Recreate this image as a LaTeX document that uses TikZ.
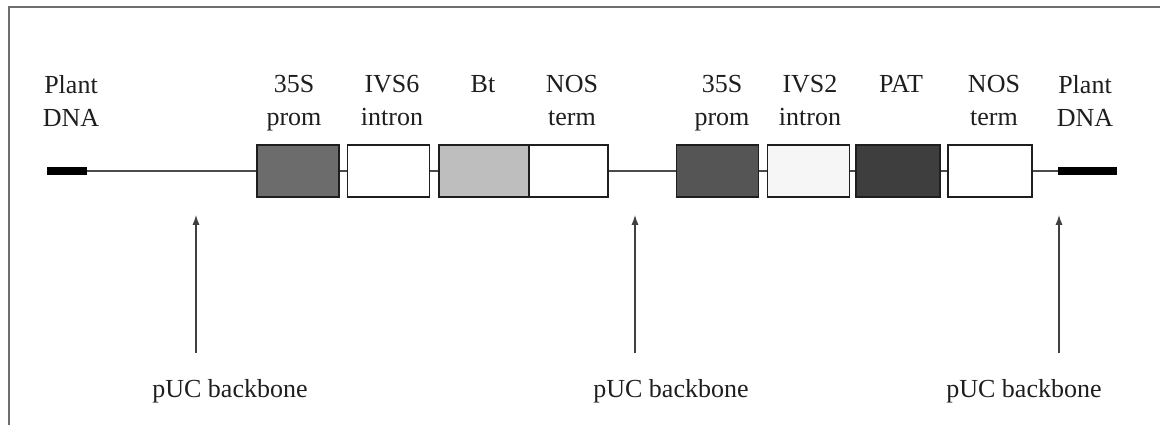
\documentclass[tikz,border=0pt]{standalone}
\usepackage{fontspec}
\setmainfont{Liberation Serif}
\usepackage{tikz}
\usetikzlibrary{arrows.meta,positioning}
\definecolor{ink}{HTML}{1E1E1E}
\definecolor{frame}{HTML}{6E6E6E}
\definecolor{promgray}{HTML}{6C6C6C}
\definecolor{promdark}{HTML}{555555}
\definecolor{btgray}{HTML}{BEBEBE}
\definecolor{patgray}{HTML}{3E3E3E}
\definecolor{introngray}{HTML}{F6F6F6}
\tikzset{
  seg/.style={rectangle, draw=ink, line width=1pt, fill=white, inner sep=0pt,
              minimum width=2.05cm, minimum height=1.3cm},
  promseg/.style={seg, fill=promgray},
  endbar/.style={rectangle, fill=black, draw=none, inner sep=0pt, minimum height=0.2cm},
  lbl/.style={font=\fontsize{18.5}{23.5}\selectfont, text=ink, align=center, inner sep=0pt, anchor=north},
  dna/.style={draw=ink!80, line width=1pt},
  flow/.style={-{Latex[length=7pt,width=5pt]}, draw=ink!85, line width=0.8pt}
}
\begin{document}
\begin{tikzpicture}[x=0.025cm, y=-0.025cm]
 \useasboundingbox (0,0) rectangle (1160,425);
 \draw[frame, line width=1.4pt] (9,425) -- (9,7) -- (1160,7);
 % construct
 \node[endbar, minimum width=1cm] (pl1) at (67,171) {};
 \node[promseg] (p35a) at (298,171) {};
 \node[seg] (ivs6) at (388.5,171) {};
 \node[seg, fill=btgray, minimum width=2.25cm] (bt) at (484,171) {};
 \node[seg, minimum width=1.98cm] (nos1) at (568.5,171) {};
 \node[promseg, fill=promdark] (p35b) at (717.5,171) {};
 \node[seg, fill=introngray] (ivs2) at (808.5,171) {};
 \node[seg, fill=patgray, minimum width=2.1cm] (pat) at (898,171) {};
 \node[seg, minimum width=2.1cm] (nos2) at (990,171) {};
 \node[endbar, minimum width=1.48cm] (pl2) at (1087.5,171) {};
 \draw[dna] (pl1.east) -- (p35a.west);
 \draw[dna] (p35a.east) -- (ivs6.west);
 \draw[dna] (ivs6.east) -- (bt.west);
 \draw[dna] (nos1.east) -- (p35b.west);
 \draw[dna] (p35b.east) -- (ivs2.west);
 \draw[dna] (ivs2.east) -- (pat.west);
 \draw[dna] (pat.east) -- (nos2.west);
 \draw[dna] (nos2.east) -- (pl2.west);
 % labels
 \node[lbl] (tpl1) at (71,75) {Plant\\DNA};
 \node[lbl] (tp35a) at (294,75) {35S\\prom};
 \node[lbl] (tivs6) at (392,75) {IVS6\\intron};
 \node[lbl] (tbt) at (483,75) {Bt};
 \node[lbl] (tnos1) at (572,75) {NOS\\term};
 \node[lbl] (tp35b) at (722,75) {35S\\prom};
 \node[lbl] (tivs2) at (810,75) {IVS2\\intron};
 \node[lbl] (tpat) at (901,75) {PAT};
 \node[lbl] (tnos2) at (994,75) {NOS\\term};
 \node[lbl] (tpl2) at (1085,75) {Plant\\DNA};
 % backbone pointers
 \node[lbl] (puc1) at (230,379) {pUC backbone};
 \node[lbl] (puc2) at (671,379) {pUC backbone};
 \node[lbl] (puc3) at (1024,379) {pUC backbone};
 \coordinate (tail1) at (196,353); \coordinate (tip1) at (196,215);
 \coordinate (tail2) at (635,353); \coordinate (tip2) at (635,215);
 \coordinate (tail3) at (1059,353); \coordinate (tip3) at (1059,215);
 \draw[flow] (tail1) -- (tip1); \draw[flow] (tail2) -- (tip2); \draw[flow] (tail3) -- (tip3);
\end{tikzpicture}
\end{document}
